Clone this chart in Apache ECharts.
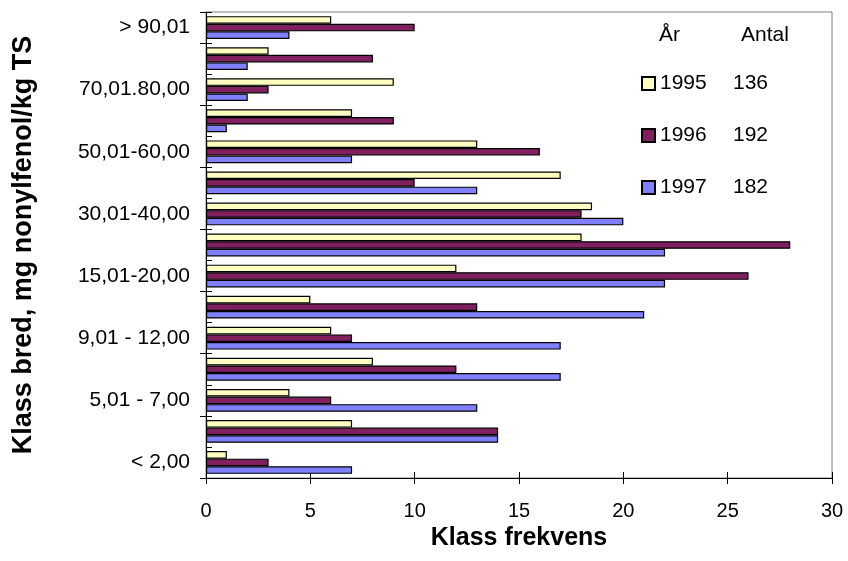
<!DOCTYPE html>
<html>
<head>
<meta charset="utf-8">
<script src="https://cdn.jsdelivr.net/npm/echarts@6/dist/echarts.min.js"></script>
<style>
html,body{margin:0;padding:0;background:#fff;}
#c{width:848px;height:561px;}
</style>
</head>
<body>
<div id="c"></div>
<script>
const categories = ["< 2,00","2,01 - 5,00","5,01 - 7,00","7,01 - 9,00","9,01 - 12,00","12,01-15,00","15,01-20,00","20,01-30,00","30,01-40,00","40,01-50,00","50,01-60,00","60,01-70,00","70,01.80,00","80,01-90,00","> 90,01"];
const years = ["1995","1996","1997"];
const counts = [136,192,182];
const v1995 = [1,7,4,8,6,5,12,18,18.5,17,13,7,9,3,6];
const v1996 = [3,14,6,12,7,13,26,28,18,10,16,9,3,8,10];
const v1997 = [7,14,13,17,17,21,22,22,20,13,7,1,2,2,4];
const xTicks = [0,5,10,15,20,25,30];
const colors = ["#FFFFC0","#80205F","#8080FF"];

const chart = echarts.init(document.getElementById('c'), null, {renderer:'canvas'});
const FONT = '"Liberation Sans", Arial, sans-serif';
const seriesData = [v1995, v1996, v1997];
const countMap = {};
years.forEach((y,i)=>countMap[y]=counts[i]);

const option = {
  backgroundColor:'#fff',
  animation:false,
  textStyle:{fontFamily:FONT},
  grid:{left:206,right:16,top:12,bottom:83,show:true,borderColor:'#808080',borderWidth:1,backgroundColor:'transparent'},
  legend:{
    orient:'vertical',
    left:636, top:68,
    itemWidth:13, itemHeight:13, itemGap:31,
    icon:'rect',
    data:years,
    textStyle:{fontFamily:FONT,fontSize:21,color:'#000',lineHeight:21,
      rich:{y:{fontFamily:FONT,fontSize:21,width:73,color:'#000'},c:{fontFamily:FONT,fontSize:21,color:'#000'}}},
    formatter:function(n){return '{y|'+n+'}{c|'+countMap[n]+'}';}
  },
  graphic:[
    {type:'text',left:659,top:25,style:{text:'År',font:'21px '+FONT,fill:'#000'}},
    {type:'text',left:741,top:25,style:{text:'Antal',font:'21px '+FONT,fill:'#000'}}
  ],
  xAxis:[{
    type:'value',min:xTicks[0],max:xTicks[xTicks.length-1],interval:5,
    axisLine:{show:true,lineStyle:{color:'#000',width:1}},
    axisTick:{show:true,inside:false,length:6,lineStyle:{color:'#000'}},
    axisLabel:{fontSize:20,color:'#000',margin:23,fontFamily:FONT},
    splitLine:{show:false},
    name:'Klass frekvens',nameLocation:'middle',nameGap:46,
    nameTextStyle:{fontSize:25,fontWeight:'bold',color:'#000',fontFamily:FONT}
  },{
    type:'value',min:xTicks[0],max:xTicks[xTicks.length-1],interval:5,position:'bottom',
    axisLine:{show:false},axisTick:{show:true,inside:true,length:6,lineStyle:{color:'#000'}},
    axisLabel:{show:false},splitLine:{show:false}
  }],
  yAxis:[{
    type:'category',data:categories,
    axisLine:{show:true,lineStyle:{color:'#000',width:1}},
    axisTick:{show:true,inside:false,length:6,lineStyle:{color:'#000'}},
    axisLabel:{fontSize:21,color:'#000',margin:16,interval:1,fontFamily:FONT},
    name:'Klass bred, mg nonylfenol/kg TS',nameLocation:'middle',nameGap:169,nameRotate:90,
    nameTextStyle:{fontSize:27,fontWeight:'bold',color:'#000',fontFamily:FONT}
  },{
    type:'category',data:categories,position:'left',
    axisLine:{show:false},axisTick:{show:true,inside:true,length:6,lineStyle:{color:'#000'}},
    axisLabel:{show:false}
  }],
  series: years.map((y,i)=>({
    name:y,type:'bar',data:seriesData[i],xAxisIndex:0,yAxisIndex:0,
    barWidth:7.6,barGap:'0%',
    itemStyle:{color:colors[i],borderColor:'#000',borderWidth:1.2}
  }))
};
chart.setOption(option);
</script>
</body>
</html>
